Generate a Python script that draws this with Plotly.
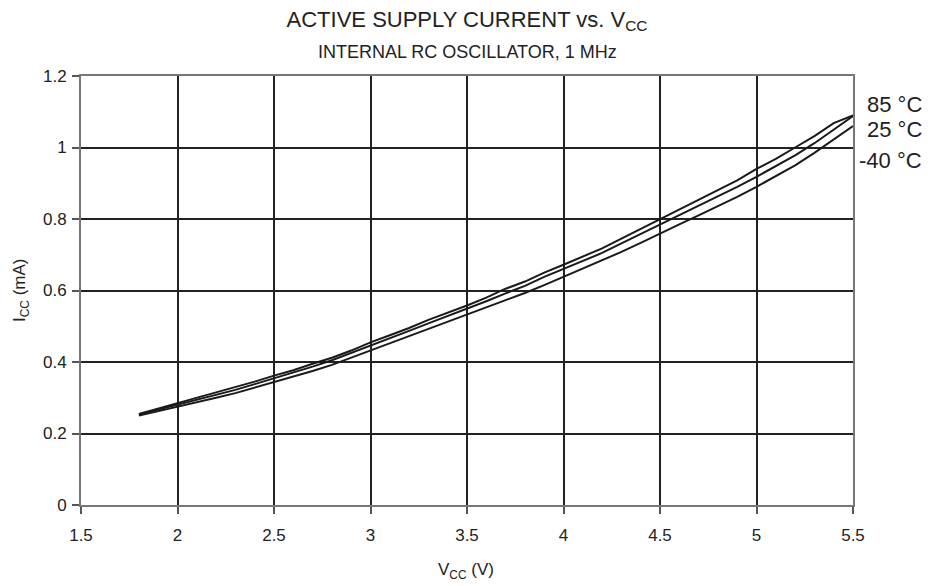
import plotly.graph_objects as go

# -----------------------------
# Data
# -----------------------------
vcc = [1.8, 1.9, 2.0, 2.1, 2.2, 2.3, 2.4, 2.5, 2.6, 2.7, 2.8, 2.9,
       3.0, 3.1, 3.2, 3.3, 3.4, 3.5, 3.6, 3.7, 3.8, 3.9, 4.0, 4.1,
       4.2, 4.3, 4.4, 4.5, 4.6, 4.7, 4.8, 4.9, 5.0, 5.1, 5.2, 5.3,
       5.4, 5.5]

icc_85 = [0.255, 0.270, 0.285, 0.298, 0.315, 0.328, 0.345, 0.362, 0.377,
          0.395, 0.412, 0.432, 0.455, 0.475, 0.495, 0.518, 0.537, 0.558,
          0.580, 0.605, 0.625, 0.650, 0.672, 0.695, 0.718, 0.745, 0.772,
          0.800, 0.826, 0.852, 0.880, 0.908, 0.940, 0.968, 1.000, 1.032,
          1.068, 1.090]

icc_25 = [0.253, 0.267, 0.280, 0.293, 0.308, 0.322, 0.338, 0.354, 0.370,
          0.387, 0.405, 0.425, 0.447, 0.467, 0.487, 0.508, 0.528, 0.550,
          0.570, 0.592, 0.613, 0.638, 0.660, 0.683, 0.705, 0.732, 0.758,
          0.785, 0.810, 0.836, 0.862, 0.890, 0.918, 0.948, 0.978, 1.012,
          1.050, 1.088]

icc_m40 = [0.250, 0.262, 0.275, 0.286, 0.300, 0.313, 0.328, 0.343, 0.358,
           0.375, 0.392, 0.412, 0.433, 0.452, 0.472, 0.492, 0.512, 0.532,
           0.552, 0.573, 0.593, 0.615, 0.638, 0.660, 0.683, 0.708, 0.733,
           0.760, 0.785, 0.810, 0.835, 0.862, 0.890, 0.920, 0.950, 0.985,
           1.022, 1.060]

labels = ["85 °C", "25 °C", "-40 °C"]
label_y = [1.119, 1.049, 0.965]

FONT = "Liberation Sans, Arial, sans-serif"
TEXT = "#222222"

# the page body has an 8px margin, so the figure is drawn 8px in from the
# window's corner; everything below is laid out in window pixels
OFF = 8
FIG_W, FIG_H = 935 - OFF, 586 - OFF
L, R, T, B = 81, 853, 76, 505  # plot area, window pixels
W_PLOT, H_PLOT = R - L, B - T


def px_x(px):
    return (px - L) / W_PLOT


def px_y(py):
    return (B - py) / H_PLOT


fig = go.Figure()

for name, ys in zip(labels, [icc_85, icc_25, icc_m40]):
    fig.add_trace(
        go.Scatter(
            x=vcc,
            y=ys,
            mode="lines",
            name=name,
            line=dict(color="#1a1a1a", width=2),
            showlegend=False,
        )
    )

# curve labels at the right edge instead of a legend
for name, ylab in zip(labels, label_y):
    fig.add_annotation(
        x=px_x(924), xref="paper", xanchor="right",
        y=ylab, yref="y", yanchor="middle",
        text=name, showarrow=False,
        font=dict(size=22, color=TEXT, family=FONT),
    )

# subtitle
fig.add_annotation(
    x=0.5, xref="paper", y=px_y(52), yref="paper", yanchor="middle",
    text="INTERNAL RC OSCILLATOR, 1 MHz", showarrow=False,
    font=dict(size=18, color=TEXT, family=FONT),
)

# axis titles
fig.add_annotation(
    x=px_x(466), xref="paper", xanchor="center",
    y=px_y(571), yref="paper", yanchor="middle",
    text="V<sub>CC</sub> (V)", showarrow=False,
    font=dict(size=17, color=TEXT, family=FONT),
)
fig.add_annotation(
    x=px_x(21), xref="paper", xanchor="center",
    y=px_y(291), yref="paper", yanchor="middle",
    text="I<sub>CC</sub> (mA)", showarrow=False, textangle=-90,
    font=dict(size=17, color=TEXT, family=FONT),
)

fig.update_layout(
    width=FIG_W,
    height=FIG_H,
    margin=dict(l=L - OFF, r=935 - R, t=T - OFF, b=586 - B),
    paper_bgcolor="white",
    plot_bgcolor="white",
    font=dict(family=FONT, color=TEXT, size=17),
    title=dict(
        text="ACTIVE SUPPLY CURRENT vs. V<sub>CC</sub>",
        x=px_x(467), xref="paper", xanchor="center",
        y=1 - (19 - OFF) / FIG_H, yanchor="middle",
        font=dict(size=22, color=TEXT, family=FONT),
    ),
    xaxis=dict(
        range=[1.5, 5.5],
        dtick=0.5,
        tick0=1.5,
        showgrid=True,
        gridcolor="#222222",
        gridwidth=2,
        showline=True,
        linecolor="#777777",
        linewidth=2,
        mirror=True,
        zeroline=False,
        ticks="outside",
        ticklen=7,
        tickwidth=1.5,
        tickcolor="#555555",
        ticklabelstandoff=7,
        automargin=False,
        tickfont=dict(size=17, color=TEXT),
    ),
    yaxis=dict(
        range=[0, 1.2],
        dtick=0.2,
        showgrid=True,
        gridcolor="#222222",
        gridwidth=2,
        showline=True,
        linecolor="#777777",
        linewidth=2,
        mirror=True,
        zeroline=False,
        ticks="outside",
        ticklen=7,
        tickwidth=1.5,
        tickcolor="#555555",
        ticklabelstandoff=2,
        automargin=False,
        tickformat="~g",
        tickfont=dict(size=17, color=TEXT),
    ),
)

fig.write_html("out.html")
